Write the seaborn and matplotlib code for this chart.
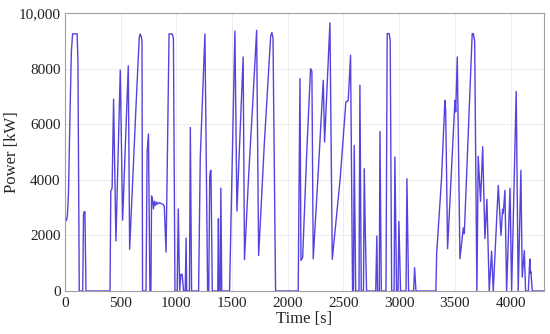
import numpy as np
import pandas as pd
import matplotlib
matplotlib.use("Agg")
import matplotlib.pyplot as plt
import seaborn as sns

time_s = [0, 4, 8, 14, 22, 32, 45, 58, 69, 110, 117, 129, 160, 167, 172, 180, 189,
          405, 412, 420, 424, 437, 458, 497, 518, 569, 581, 640, 667, 675, 685, 692, 697,
          728, 738, 750, 763, 772, 778, 788, 795, 805, 815, 825, 835, 850, 865, 880, 892,
          908, 935, 962, 974, 988, 1008, 1018, 1030, 1041, 1053, 1065, 1080, 1088, 1093,
          1118, 1126, 1137, 1200, 1215, 1257, 1281, 1291, 1300, 1305, 1311, 1323, 1372,
          1378, 1384, 1394, 1400, 1408, 1478, 1526, 1544, 1600, 1612, 1650, 1685, 1721, 1739,
          1790, 1847, 1858, 1868, 1891, 2094, 2110, 2119, 2134, 2170, 2205, 2217, 2229, 2280, 2319,
          2331, 2379, 2400, 2470, 2522, 2543, 2564, 2582, 2590, 2597, 2610, 2640, 2648,
          2660, 2680, 2687, 2697, 2708, 2790, 2800, 2806, 2822, 2828, 2840, 2882, 2893,
          2911, 2920, 2933, 2955, 2962, 2977, 2990, 2998, 3013, 3062, 3070, 3085, 3130,
          3139, 3151, 3330, 3337, 3380, 3411, 3418, 3435, 3501, 3508, 3522, 3546, 3576,
          3585, 3656, 3666, 3678, 3698, 3710, 3731, 3750, 3770, 3788, 3809, 3830, 3845,
          3890, 3914, 3929, 3935, 3950, 3965, 3995, 4010, 4051, 4069, 4093, 4105, 4124,
          4135, 4160, 4173, 4178, 4183, 4195, 4300]
power_kw = [0, 2450, 2620, 2550, 2700, 3500, 6200, 8600, 9250, 9250, 8300, 0, 0, 2750, 2850, 2850, 0,
            0, 3600, 3650, 3750, 6900, 1800, 7950, 2550, 8100, 1500, 6800, 9100, 9250, 9150, 9000, 0,
            0, 5000, 5650, 0, 0, 3420, 3250, 2950, 3230, 3080, 3200, 3130, 3180, 3140, 3120, 3050,
            1400, 9250, 9250, 9100, 0, 0, 2950, 0, 600, 600, 0, 0, 1900, 0,
            0, 5880, 0, 0, 4800, 9250, 0, 0, 4100, 4300, 4340, 0, 0,
            2600, 0, 0, 3700, 0, 0, 9350, 2880, 8420, 1130, 4200, 6680, 9380, 1280,
            5300, 9170, 9300, 9100, 0, 0, 7640, 1100, 1200, 4900, 8000, 7900, 1160, 4700, 7580,
            5360, 9650, 1140, 4000, 6800, 6850, 8480, 0, 0, 5240, 0, 0, 7400,
            0, 0, 4400, 2000, 0, 0, 1980, 0, 0, 5740, 0, 0, 9260,
            9260, 9000, 0, 0, 4820, 0, 0, 2500, 0, 0, 4040, 0, 0,
            840, 0, 0, 1345, 4000, 6860, 6500, 1520, 6860, 6440, 8420, 1160, 2270,
            2060, 9260, 9260, 9000, 0, 4850, 3230, 5190, 1890, 3300, 0, 1430, 0,
            3800, 2000, 2940, 2800, 3620, 0, 3700, 0, 7180, 0, 4340, 500, 1450,
            0, 0, 1150, 650, 700, 0, 0]

x_ticks = [0, 500, 1000, 1500, 2000, 2500, 3000, 3500, 4000]
y_ticks = [0, 2000, 4000, 6000, 8000, 10000]
y_tick_labels = ["0", "2000", "4000", "6000", "8000", "10,000"]

df = pd.DataFrame({"Time": time_s, "Power": power_kw})

sns.set_style("whitegrid")
plt.rcParams['font.family'] = ['Liberation Serif', 'DejaVu Serif']

fig = plt.figure(figsize=(5.5, 3.34), dpi=100)
ax = fig.add_axes([0.118, 0.1287, 0.871, 0.8323])
sns.lineplot(data=df, x="Time", y="Power", ax=ax, color="#5443DC", linewidth=1.0,
             estimator=None, sort=False)

ax.set_xlim(0, 4300)
ax.set_ylim(0, 10000)
ax.set_xticks(x_ticks)
ax.set_xticklabels([str(v) for v in x_ticks], fontsize=11)
ax.set_yticks(y_ticks)
ax.set_yticklabels(y_tick_labels, fontsize=11)
ax.set_xlabel("Time [s]", fontsize=12, labelpad=1)
ax.set_ylabel("Power [kW]", fontsize=12)
ax.yaxis.set_label_coords(-0.094, 0.5)
ax.grid(True, color="#ececec", linewidth=0.7)
for s in ax.spines.values():
    s.set_visible(True)
    s.set_color("#a0a0a0")
    s.set_linewidth(0.8)
ax.tick_params(axis="x", length=0, pad=4, labelcolor="#222222")
ax.tick_params(axis="y", length=0, pad=3, labelcolor="#222222")

fig.savefig("out.png", dpi=100)
